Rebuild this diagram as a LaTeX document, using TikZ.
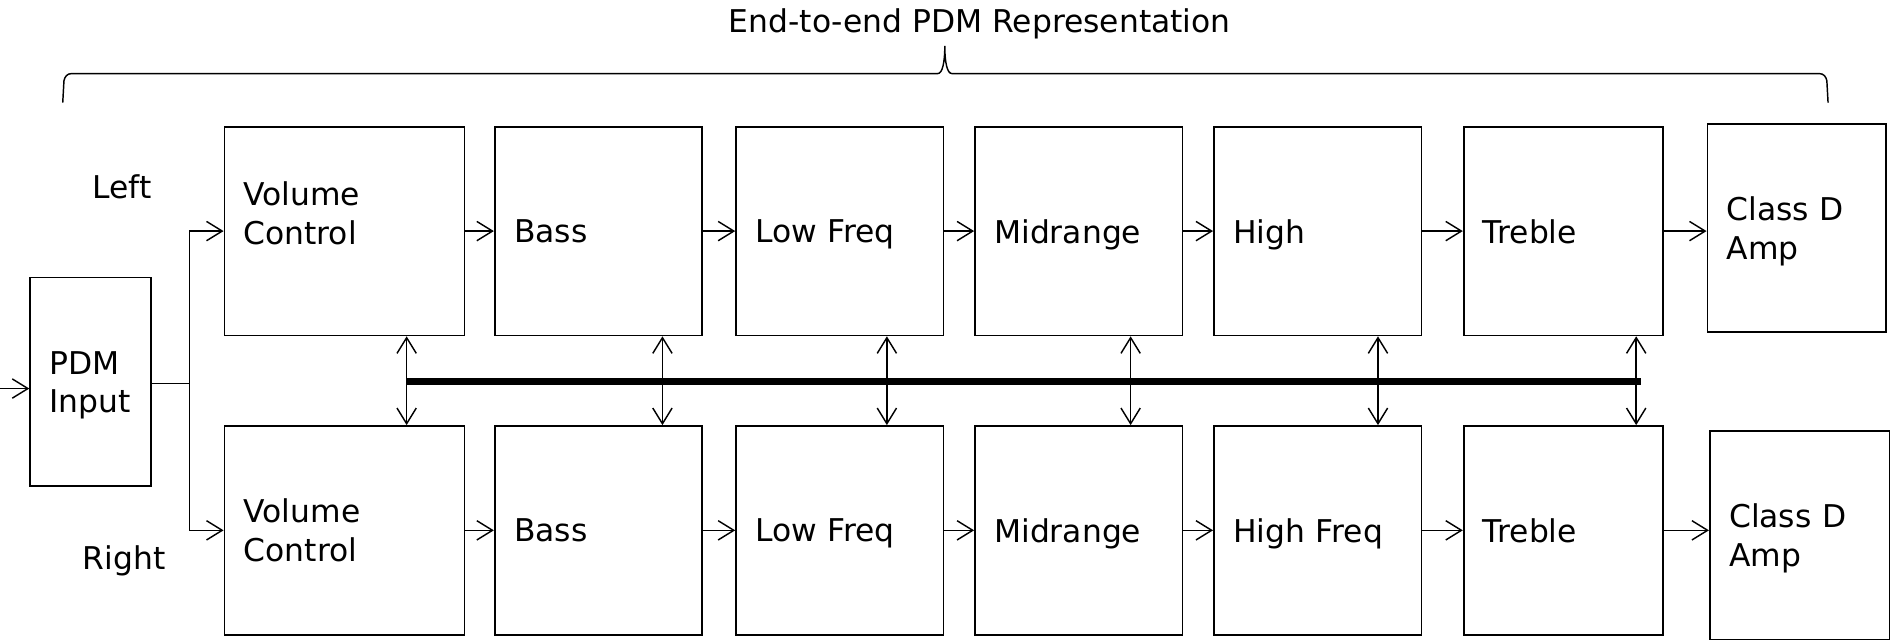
\documentclass[tikz,border=0pt]{standalone}
\usepackage{fontspec}
\setmainfont{DejaVu Sans}
\usetikzlibrary{arrows.meta}

\tikzset{
  stage/.style={draw, line width=0.7pt, align=left, inner xsep=8pt, minimum height=86.5pt, text depth=0pt, text width=#1},
  twoline/.style={text depth=16pt},
  link/.style={line width=0.6pt},
  >={Straight Barb[length=6.5pt,width=8pt]}
}

\begin{document}
\begin{tikzpicture}[x=0.5pt, y=-0.5pt, font=\fontsize{13}{16}\selectfont]
  \useasboundingbox (0,0) rectangle (1568,532);

  % title and brace over the whole chain
  \node (title) at (812,20) {End-to-end PDM Representation};
  \coordinate (brL) at (52,85);
  \coordinate (brT) at (783,38);
  \coordinate (brR) at (1515,85);
  \draw[link] (brL) -- (53,67) to[out=80,in=180] (59,61) -- (777,61)
    .. controls (781,61) and (783,52) .. (brT)
    .. controls (783,52) and (785,61) .. (789,61) -- (1508,61)
    to[out=0,in=100] (1514,67) -- (brR);

  % input block
  \node[stage=34pt, twoline] (pdm) at (75,316.5) {PDM\\Input};
  \node (left) at (101,155) {Left};
  \node (right) at (103,465) {Right};

  % left channel
  \node[stage=83.5pt] (lvc) at (285.5,191.5) {};
  \node[anchor=west, align=left, inner sep=0pt] (lvcname) at ([xshift=8pt, yshift=7.25pt]lvc.west) {Volume\\Control};
  \node[stage=70pt] (lbass) at (496,191.5) {Bass};
  \node[stage=70pt] (llow) at (696,191.5) {Low Freq};
  \node[stage=70pt] (lmid) at (894,191.5) {Midrange};
  \node[stage=70pt] (lhigh) at (1092,191.5) {High};
  \node[stage=66.5pt] (ltre) at (1295.5,191.5) {Treble};
  \node[stage=58pt, twoline, minimum height=86pt] (lamp) at (1489,189) {Class D\\Amp};

  % right channel
  \node[stage=83.5pt, twoline] (rvc) at (285.5,439.5) {Volume\\Control};
  \node[stage=70pt] (rbass) at (496,439.5) {Bass};
  \node[stage=70pt] (rlow) at (696,439.5) {Low Freq};
  \node[stage=70pt] (rmid) at (894,439.5) {Midrange};
  \node[stage=70pt] (rhigh) at (1092,439.5) {High Freq};
  \node[stage=66.5pt] (rtre) at (1295.5,439.5) {Treble};
  \node[stage=58.5pt, twoline] (ramp) at (1491.5,443.5) {Class D\\Amp};

  % input and split
  \coordinate (src) at (0,322);
  \coordinate (split) at (157,318);
  \draw[link, ->] (src) -- (src -| pdm.west);
  \draw[link] (pdm.east |- split) -- (split);
  \draw[link, ->] (split) |- (lvc.west);
  \draw[link, ->] (split) |- (rvc.west);

  % signal chains
  \foreach \a/\b in {vc/bass, bass/low, low/mid, mid/high, high/tre, tre/amp}{
    \draw[link, ->] (l\a.east) -- (l\a.east -| l\b.west);
    \draw[link, ->] (r\a.east) -- (r\a.east -| r\b.west);
  }

  % shared bus between the channels
  \coordinate (busL) at (337,316);
  \coordinate (busR) at (1360,316);
  \draw[line width=3pt] (busL) -- (busR);
  \foreach \s/\x in {vc/337, bass/549, low/735, mid/937, high/1142, tre/1356}{
    \coordinate (tap\s) at (\x,316);
    \draw[link, <->] (l\s.south -| tap\s) -- (r\s.north -| tap\s);
  }
\end{tikzpicture}
\end{document}
